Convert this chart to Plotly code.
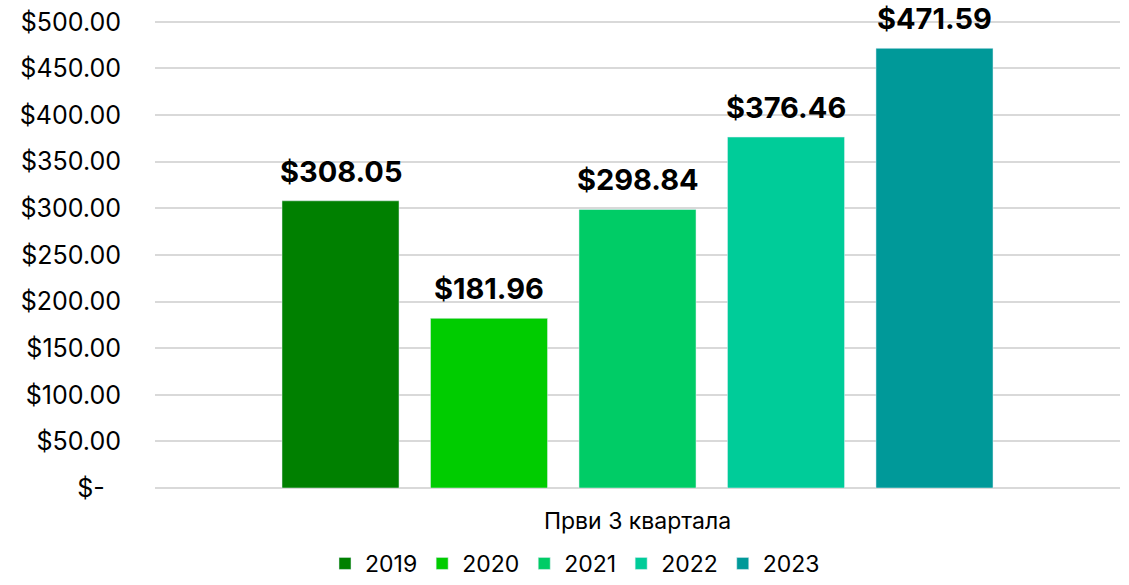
import plotly.graph_objects as go

category = ["Први 3 квартала"]
years = ["2019", "2020", "2021", "2022", "2023"]
values = [308.05, 181.96, 298.84, 376.46, 471.59]
colors = ["#008000", "#00CC00", "#00CC66", "#00CC99", "#009999"]
tick_vals = [0, 50, 100, 150, 200, 250, 300, 350, 400, 450, 500]
tick_text = ["$-\u2007", "$50.00", "$100.00", "$150.00", "$200.00", "$250.00",
             "$300.00", "$350.00", "$400.00", "$450.00", "$500.00"]

BARGAP = 0.2306
BARGROUPGAP = 0.212

fig = go.Figure()
for yr, v, c in zip(years, values, colors):
    fig.add_trace(go.Bar(name=yr, x=category, y=[v], marker_color=c))

# value labels placed above each bar of the group (positions derived from bar layout)
n = len(years)
group_w = 1 - BARGAP
slot = group_w / n
for i, v in enumerate(values):
    fig.add_annotation(
        x=-group_w / 2 + (i + 0.5) * slot, y=v, xref="x", yref="y",
        text=f"${v:,.2f}", showarrow=False, yanchor="bottom", yshift=10,
        font=dict(family="Inter", size=29, color="#000000", weight="bold"),
    )

fig.update_layout(
    barmode="group", bargap=BARGAP, bargroupgap=BARGROUPGAP,
    width=1129, height=585,
    margin=dict(l=155, r=9, t=20, b=97, autoexpand=False),
    paper_bgcolor="white", plot_bgcolor="white",
    font=dict(family="Inter", color="#000000"),
    showlegend=True,
    legend=dict(orientation="h", xref="container", x=0.5093, xanchor="center",
                yref="container", y=0.0, yanchor="bottom",
                font=dict(size=23), itemwidth=30, traceorder="normal"),
)
fig.update_yaxes(range=[0, 502], tickvals=tick_vals, ticktext=tick_text,
                 showgrid=True, gridcolor="#d9d9d9", gridwidth=1.5,
                 zeroline=True, zerolinecolor="#d9d9d9", zerolinewidth=1.5,
                 tickfont=dict(size=25), ticks="", ticklabelstandoff=33,
                 automargin=False)
fig.update_xaxes(tickfont=dict(size=23), showline=False, ticks="",
                 ticklabelstandoff=17, automargin=False)

fig.write_html("out.html",
               config={"displayModeBar": False},
               post_script="document.body.style.margin='0';")
